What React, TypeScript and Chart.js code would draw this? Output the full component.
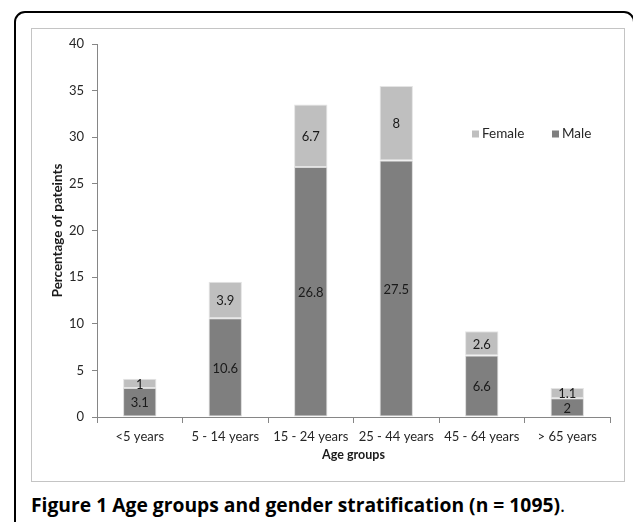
import React, { useEffect, useRef } from "react";
import { Chart, registerables } from "chart.js";

Chart.register(...registerables);

const categories = ["<5 years", "5 - 14 years", "15 - 24 years", "25 - 44 years", "45 - 64 years", "> 65 years"];
const maleValues = [3.1, 10.6, 26.8, 27.5, 6.6, 2];
const femaleValues = [1, 3.9, 6.7, 8, 2.6, 1.1];
const yTicks = [0, 5, 10, 15, 20, 25, 30, 35, 40];
const seriesNames = ["Male", "Female"];

const MALE_COLOR = "#7f7f7f";
const FEMALE_COLOR = "#bfbfbf";
const FONT = "Lato";

const valueLabelPlugin = {
  id: "valueLabels",
  afterDatasetsDraw(chart: any) {
    const ctx = chart.ctx;
    ctx.save();
    ctx.font = `13px ${FONT}`;
    ctx.fillStyle = "#1a1a1a";
    ctx.textAlign = "center";
    ctx.textBaseline = "middle";
    chart.data.datasets.forEach((ds: any, di: number) => {
      const meta = chart.getDatasetMeta(di);
      meta.data.forEach((bar: any, i: number) => {
        const { x, y, base } = bar.getProps(["x", "y", "base"], true);
        ctx.fillText(String(ds.data[i]), x, (y + base) / 2 + 1);
      });
    });
    ctx.restore();
  },
};

const legendPlugin = {
  id: "customLegend",
  afterDraw(chart: any) {
    const ctx = chart.ctx;
    const area = chart.chartArea;
    ctx.save();
    ctx.font = `13.5px ${FONT}`;
    ctx.textBaseline = "middle";
    ctx.textAlign = "left";
    const y = area.top + 90;
    const items = [
      { label: chart.data.datasets[1].label, color: chart.data.datasets[1].backgroundColor, x: area.left + 375 },
      { label: chart.data.datasets[0].label, color: chart.data.datasets[0].backgroundColor, x: area.left + 455 },
    ];
    items.forEach((it) => {
      ctx.fillStyle = it.color;
      ctx.fillRect(it.x, y - 3.5, 7, 7);
      ctx.fillStyle = "#262626";
      ctx.fillText(it.label, it.x + 10, y);
    });
    ctx.restore();
  },
};

function BarChart() {
  const ref = useRef<HTMLCanvasElement>(null);
  useEffect(() => {
    if (!ref.current) return;
    Chart.defaults.font.family = FONT;
    const chart = new Chart(ref.current, {
      type: "bar",
      data: {
        labels: categories,
        datasets: [
          {
            label: seriesNames[0],
            data: maleValues,
            backgroundColor: MALE_COLOR,
            borderColor: "#d9d9d9",
            borderWidth: 1,
            borderSkipped: false,
            barPercentage: 0.39,
            categoryPercentage: 1,
          },
          {
            label: seriesNames[1],
            data: femaleValues,
            backgroundColor: FEMALE_COLOR,
            borderColor: "#e4e4e4",
            borderWidth: 1,
            borderSkipped: false,
            barPercentage: 0.39,
            categoryPercentage: 1,
          },
        ],
      },
      options: {
        animation: false,
        responsive: false,
        maintainAspectRatio: false,
        layout: { padding: { left: 0, right: 15, top: 16, bottom: 0 } },
        plugins: {
          legend: { display: false },
          tooltip: { enabled: false },
        },
        scales: {
          x: {
            stacked: true,
            grid: { drawOnChartArea: false, color: "#868686", tickLength: 6, offset: true },
            border: { color: "#868686" },
            ticks: { color: "#262626", font: { size: 13 }, padding: 6, maxRotation: 0 },
            title: {
              display: true,
              text: "Age groups",
              color: "#1a1a1a",
              font: { size: 12.5, weight: "bold" },
              padding: { top: 0, bottom: 20 },
            },
            afterFit(scale: any) {
              scale.height = 65;
            },
          },
          y: {
            stacked: true,
            min: 0,
            max: 40,
            afterBuildTicks(scale: any) {
              scale.ticks = yTicks.map((v) => ({ value: v }));
            },
            grid: { drawOnChartArea: false, color: "#868686", tickLength: 5 },
            border: { color: "#868686" },
            ticks: { color: "#262626", font: { size: 13 }, padding: 8 },
            title: {
              display: true,
              text: "Percentage of pateints",
              color: "#1a1a1a",
              font: { size: 13.4, weight: "bold" },
              padding: { top: 19, bottom: 0 },
            },
            afterFit(scale: any) {
              scale.width = 66;
            },
          },
        },
      },
      plugins: [valueLabelPlugin, legendPlugin],
    } as any);
    return () => chart.destroy();
  }, []);
  return <canvas ref={ref} width={594} height={454} style={{ display: "block" }} />;
}

export default function App() {
  return (
    <div style={{ position: "fixed", left: 0, top: 0, width: 633, height: 522, overflow: "hidden", background: "#fff" }}>
      <div
        style={{
          position: "absolute",
          left: 14,
          top: 11,
          width: 621,
          height: 560,
          border: "2px solid #000",
          borderRadius: 11,
          boxSizing: "border-box",
        }}
      />
      <div
        style={{
          position: "absolute",
          left: 31,
          top: 28,
          width: 594,
          height: 454,
          border: "1px solid #c4c4c4",
          boxSizing: "border-box",
        }}
      />
      <div style={{ position: "absolute", left: 31, top: 28, width: 594, height: 454 }}>
        <BarChart />
      </div>
      <div
        style={{
          position: "absolute",
          left: 31,
          top: 494,
          fontFamily: "'Open Sans', sans-serif",
          fontSize: 19.3,
          lineHeight: "22px",
          whiteSpace: "nowrap",
          color: "#000",
        }}
      >
        <span style={{ fontWeight: 700 }}>Figure 1 Age groups and gender stratification (n = 1095)</span>.
      </div>
    </div>
  );
}
